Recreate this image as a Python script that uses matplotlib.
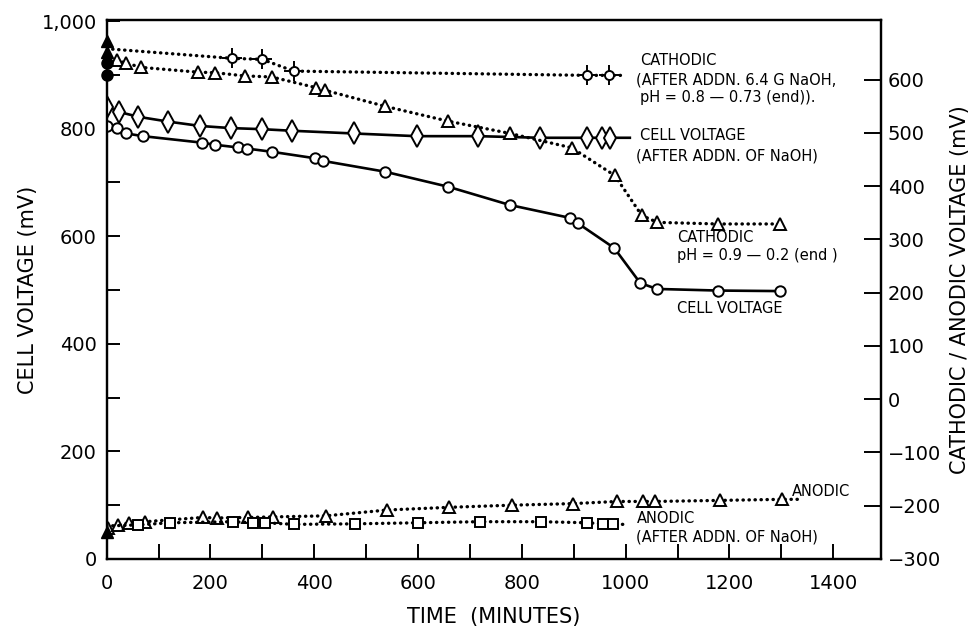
import matplotlib
matplotlib.use('Agg')
import matplotlib.pyplot as plt
from matplotlib.ticker import MultipleLocator, FixedLocator

# cell voltage, left axis (mV)
cell_t = [0, 19, 38, 70, 183, 209, 253, 270, 318, 401, 417, 536, 658, 777, 893, 908, 978, 1028, 1060, 1178, 1297]
cell_v = [804, 801, 791, 786, 774, 770, 765, 763, 757, 745, 740, 720, 692, 658, 634, 624, 578, 513, 502, 499, 498]

# cell voltage after addition of NaOH, left axis (mV); last point is line end only
cell_naoh_t = [0, 24, 61, 119, 180, 239, 299, 358, 476, 597, 716, 835, 925, 954, 970, 1008]
cell_naoh_v = [841, 831, 822, 813, 805, 801, 799, 796, 791, 786, 786, 783, 783, 783, 783, 783]

# cathodic, right axis (mV)
cath_t = [19, 37, 67, 176, 209, 266, 318, 403, 421, 536, 658, 777, 896, 979, 1031, 1061, 1178, 1297]
cath_v = [636, 631, 623, 614, 613, 607, 605, 585, 580, 550, 522, 499, 472, 420, 345, 332, 329, 329]

# cathodic after addition of 6.4 g NaOH, right axis (mV); first / last are line ends
cath_naoh_t = [0, 241, 300, 360, 925, 968, 1000]
cath_naoh_v = [658, 640, 638, 616, 608, 608, 608]

# anodic, right axis (mV); last point is line end
anod_t = [3, 22, 43, 74, 185, 212, 273, 321, 422, 541, 660, 780, 899, 983, 1033, 1056, 1182, 1302, 1332]
anod_v = [-241, -237, -232, -230, -222, -223, -222, -221, -219, -208, -203, -199, -196, -192, -192, -192, -190, -188, -188]

# anodic after addition of NaOH, right axis (mV); first / last are line ends
anod_naoh_t = [0, 61, 122, 244, 282, 305, 361, 478, 600, 719, 836, 926, 956, 975, 1004]
anod_naoh_v = [-238, -236, -232, -230, -232, -232, -235, -234, -232, -230, -230, -232, -234, -235, -235]

# filled starting points at t = 0, right axis (mV)
start_tri_v = [672, 652, -250]
start_dot_v = [632, 608]

left_ticks = [0, 200, 400, 600, 800, 1000]
left_labels = ['0', '200', '400', '600', '800', '1,000']
right_ticks = list(range(-300, 700, 100))
x_ticks = list(range(0, 1600, 200))

plt.rcParams['font.family'] = ['DejaVu Sans']
dots = (0, (0.1, 1.7))

fig = plt.figure(figsize=(9.76, 6.28), dpi=100)
ax = fig.add_axes([0.1093, 0.1099, 0.7934, 0.8583])
ax2 = ax.twinx()

ax.plot(cell_t, cell_v, color='black', lw=1.9, marker='o', ms=7.5, mfc='white', mew=1.4, zorder=3)
ax.plot(cell_naoh_t, cell_naoh_v, color='black', lw=1.9, marker='d', ms=11, mfc='white', mew=1.4,
        markevery=list(range(len(cell_naoh_t) - 1)), zorder=3)

ax2.plot(cath_t, cath_v, color='black', lw=2.4, ls=dots, dash_capstyle='round',
         marker='^', ms=9, mfc='white', mew=1.4)
ax2.plot(cath_naoh_t, cath_naoh_v, color='black', lw=2.4, ls=dots, dash_capstyle='round')
ax2.plot(cath_naoh_t[1:-1], cath_naoh_v[1:-1], ls='none', color='black', marker='+', ms=15, mew=1.4)
ax2.plot(cath_naoh_t[1:-1], cath_naoh_v[1:-1], ls='none', color='black', marker='o', ms=6.5, mfc='white', mew=1.4)
ax2.plot(anod_t, anod_v, color='black', lw=2.4, ls=dots, dash_capstyle='round',
         marker='^', ms=9, mfc='white', mew=1.4, markevery=list(range(len(anod_t) - 1)))
ax2.plot(anod_naoh_t, anod_naoh_v, color='black', lw=2.4, ls=dots, dash_capstyle='round',
         marker='s', ms=7, mfc='white', mew=1.4, markevery=list(range(1, len(anod_naoh_t) - 1)))
ax2.plot([0] * len(start_tri_v), start_tri_v, ls='none', marker='^', ms=9, color='black', clip_on=False, zorder=5)
ax2.plot([0] * len(start_dot_v), start_dot_v, ls='none', marker='o', ms=8, color='black', clip_on=False, zorder=5)

ax.set_xlim(0, 1492)
ax.set_ylim(0, 1002)
ax2.set_ylim(-300, 712)

ax.xaxis.set_major_locator(FixedLocator(x_ticks))
ax.xaxis.set_minor_locator(MultipleLocator(100))
ax.set_yticks(left_ticks)
ax.set_yticklabels(left_labels)
ax.yaxis.set_minor_locator(MultipleLocator(100))
ax2.set_yticks(right_ticks)

ax.tick_params(axis='x', which='both', direction='in', length=11, width=1.4, labelsize=14, pad=11)
ax.tick_params(axis='y', which='both', direction='in', length=9, width=1.4, labelsize=14, pad=7,
               right=False)
ax2.tick_params(axis='y', which='both', direction='in', length=12, width=1.4, labelsize=14, pad=5)
ax.tick_params(top=False)
for a in (ax, ax2):
    for s in a.spines.values():
        s.set_linewidth(1.6)

ax.set_xlabel('TIME  (MINUTES)', fontsize=15, labelpad=10)
ax.set_ylabel('CELL VOLTAGE (mV)', fontsize=15, labelpad=3)
ax2.set_ylabel('CATHODIC / ANODIC VOLTAGE (mV)', fontsize=15, labelpad=6)

tk = dict(fontsize=10.5, color='black', va='center', ha='left')
ax.text(1027, 927, 'CATHODIC', **tk)
ax.text(1020, 890, '(AFTER ADDN. 6.4 G NaOH,', **tk)
ax.text(1027, 857, 'pH = 0.8 \u2014 0.73 (end)).', **tk)
ax.text(1027, 788, 'CELL VOLTAGE', **tk)
ax.text(1020, 749, '(AFTER ADDN. OF NaOH)', **tk)
ax.text(1099, 598, 'CATHODIC', **tk)
ax.text(1099, 565, 'pH = 0.9 \u2014 0.2 (end )', **tk)
ax.text(1099, 466, 'CELL VOLTAGE', **tk)
ax.text(1320, 126, 'ANODIC', **tk)
ax.text(1022, 76, 'ANODIC', **tk)
ax.text(1020, 41, '(AFTER ADDN. OF NaOH)', **tk)

fig.savefig('out.png', dpi=100)
